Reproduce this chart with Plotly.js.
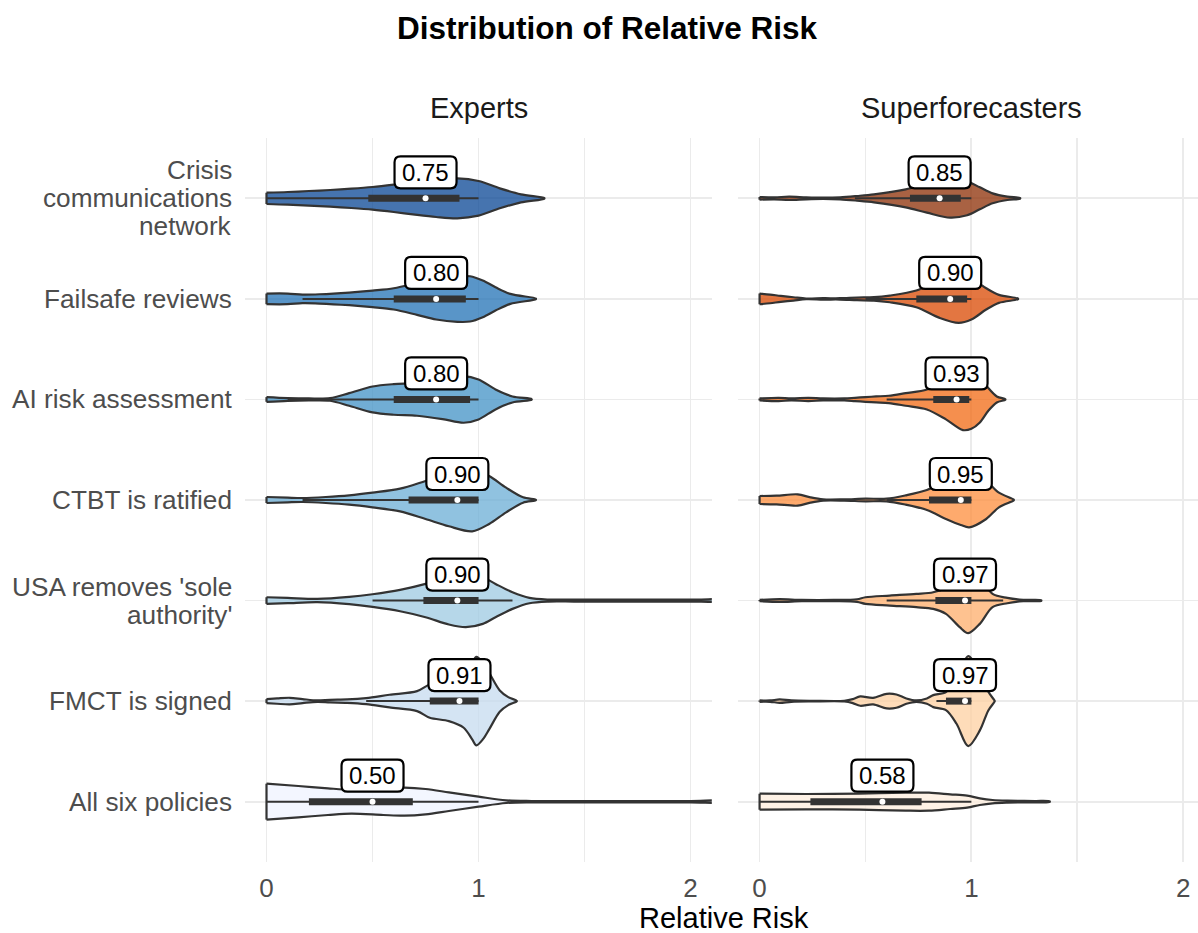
<!DOCTYPE html>
<html><head><meta charset="utf-8">
<script src="https://cdn.plot.ly/plotly-3.0.1.min.js"></script>
<style>html,body{margin:0;padding:0;background:#fff}#chart{width:1198px;height:933px}</style>
</head><body><div id="chart"></div><script>
// ---------------- data ----------------
const categories = ["Crisis\ncommunications\nnetwork", "Failsafe reviews", "AI risk assessment",
  "CTBT is ratified", "USA removes 'sole\nauthority'", "FMCT is signed", "All six policies"];
const groups = ["Experts", "Superforecasters"];

// density outlines (half-width) per category
const expDensityX = [
  [0,0.1,0.2,0.3,0.4,0.5,0.6,0.7,0.8,0.9,1.0,1.1,1.2,1.31],
  [0,0.1,0.17,0.25,0.39,0.5,0.6,0.71,0.8,0.9,0.96,1.02,1.08,1.15,1.27],
  [0,0.1,0.2,0.3,0.39,0.5,0.6,0.71,0.83,0.93,1.0,1.08,1.16,1.25],
  [0,0.1,0.17,0.28,0.39,0.5,0.63,0.75,0.86,0.97,1.05,1.13,1.21,1.27],
  [0,0.1,0.24,0.39,0.5,0.63,0.75,0.86,0.94,1.02,1.08,1.16,1.24,1.33,1.45,1.6,1.75,1.9,2.05,2.2],
  [0,0.05,0.11,0.17,0.24,0.3,0.38,0.47,0.58,0.71,0.77,0.86,0.93,0.97,0.99,1.02,1.05,1.1,1.14,1.18],
  [0,0.15,0.29,0.4,0.55,0.65,0.75,0.86,1.0,1.13,1.25,1.4,1.55,1.7,1.85,2.0,2.2]
];
const expDensityW = [
  [17,19,22,25,29,34,41,49,56,60,52,30,12,1],
  [16,16,13,14,19,25,32,48,62,69,68,55,35,15,1],
  [7,4,3,4,19,39,46,49,59,70,60,30,9,1],
  [9,7,6,9,14,22,34,57,79,94,72,37,8,1],
  [10,8,5,11,19,32,50,72,80,70,50,25,8,3,3,3,3,3,3,3],
  [6,8,10,6,2,4,5,9,19,30,50,60,80,115,133,115,85,32,12,1],
  [54,47,40,36,40,42,38,28,15,4,2,2,2,2,2,2,2]
];
const sfDensityX = [
  [0,0.07,0.14,0.22,0.3,0.38,0.46,0.54,0.69,0.79,0.9,0.98,1.04,1.1,1.17,1.23],
  [0,0.05,0.1,0.16,0.22,0.3,0.38,0.46,0.54,0.615,0.74,0.85,0.94,1.0,1.07,1.13,1.22],
  [0,0.09,0.15,0.23,0.3,0.4,0.45,0.5,0.55,0.61,0.69,0.79,0.88,0.96,1.0,1.04,1.08,1.12,1.16],
  [0,0.08,0.18,0.24,0.3,0.4,0.5,0.6,0.69,0.79,0.88,0.95,0.99,1.07,1.13,1.2],
  [0,0.095,0.2,0.35,0.46,0.5,0.615,0.74,0.82,0.88,0.945,0.985,1.04,1.1,1.17,1.245,1.33],
  [0,0.05,0.095,0.15,0.25,0.4,0.44,0.475,0.536,0.6,0.646,0.693,0.74,0.79,0.82,0.88,0.93,0.985,1.04,1.08,1.11],
  [0,0.22,0.47,0.69,0.8,0.9,0.98,1.04,1.1,1.17,1.3,1.37]
];
const sfDensityW = [
  [4,3,5,3,2,3,7,12,27,43,58,51,33,15,5,1],
  [16,13,9,5,1,2,2,4,5,10,25,57,72,62,32,12,1],
  [3,5,3,5,3,3,5,7,9,11,19,30,60,92,88,69,34,9,1],
  [12,13,17,8,2,2,4,4,14,30,57,75,82,57,22,1],
  [2,4,2,2,4,10,15,20,25,40,80,98,70,20,8,2,1],
  [2,2,5,2,1,1,6,14,10,22,20,8,2,8,18,27,68,135,88,28,1],
  [24,23,24,27,27,22,18,10,5,3,2,1]
];

// box-plot statistics
const expWhiskerLo = [0, 0.17, 0.10, 0.17, 0.50, 0.47, 0];
const expQ1        = [0.48, 0.60, 0.60, 0.67, 0.74, 0.77, 0.20];
const expMedian    = [0.75, 0.80, 0.80, 0.90, 0.90, 0.91, 0.50];
const expQ3        = [0.91, 0.94, 0.96, 1.00, 1.00, 1.00, 0.69];
const expWhiskerHi = [1.0, 1.0, 1.0, 1.0, 1.16, 1.0, 1.0];

const sfWhiskerLo = [0.45, 0.50, 0.60, 0.60, 0.60, 0.835, 0];
const sfQ1        = [0.71, 0.74, 0.82, 0.80, 0.83, 0.88, 0.24];
const sfMedian    = [0.85, 0.90, 0.93, 0.95, 0.97, 0.97, 0.58];
const sfQ3        = [0.95, 0.98, 0.99, 1.00, 1.00, 1.00, 0.765];
const sfWhiskerHi = [1.0, 1.0, 1.0, 1.0, 1.15, 1.0, 1.0];

// ---------------- style ----------------
const expColors = ['#084594','#2171b5','#4292c6','#6baed6','#9ecae1','#c6dbef','#eff3ff'];
const sfColors  = ['#8c2d04','#d94801','#f16913','#fd8d3c','#fdae6b','#fdd0a2','#feedde'];
const FILL_ALPHA = 0.75;
const WIDTH_SCALE = 1 / 302;   // density reading -> category units
const OUTLINE = '#333333';
const OUTLINE_W = 2.2;
const FONT = 'Liberation Sans, Arial, Helvetica, sans-serif';
const LABEL_DY = 26;           // px above the row
const BOX_W = 62, BOX_H = 32, BOX_R = 6;
const LINE_GAP = 28;

function rgba(hex, a) {
  const n = parseInt(hex.slice(1), 16);
  return `rgba(${(n>>16)&255},${(n>>8)&255},${n&255},${a})`;
}

const traces = [];
const shapes = [];
const annotations = [];

function roundRectPath(cx, cy, w, h, r) {
  const l = cx - w/2, rt = cx + w/2, b = cy - h/2, t = cy + h/2;
  return `M ${l+r},${b} L ${rt-r},${b} Q ${rt},${b} ${rt},${b+r} L ${rt},${t-r} Q ${rt},${t} ${rt-r},${t} ` +
         `L ${l+r},${t} Q ${l},${t} ${l},${t-r} L ${l},${b+r} Q ${l},${b} ${l+r},${b} Z`;
}

function addPanel(xa, ya, dX, dW, lo, q1, med, q3, hi, colors) {
  const xref = xa === 'x' ? 'x' : 'x2';
  const yref = ya === 'y' ? 'y' : 'y2';
  for (let i = 0; i < categories.length; i++) {
    const xs = dX[i], ws = dW[i];
    const up = ws.map(w => i - w * WIDTH_SCALE);
    const dn = ws.map(w => i + w * WIDTH_SCALE);
    traces.push({
      type: 'scatter', mode: 'lines', xaxis: xa, yaxis: ya,
      x: xs.concat(xs.slice().reverse()),
      y: up.concat(dn.slice().reverse()),
      fill: 'toself', fillcolor: rgba(colors[i], FILL_ALPHA),
      line: {color: OUTLINE, width: OUTLINE_W, shape: 'spline', smoothing: 0.9},
      hoverinfo: 'skip', showlegend: false
    });
    traces.push({
      type: 'scatter', mode: 'lines', xaxis: xa, yaxis: ya,
      x: [xs[0], xs[0]], y: [up[0], dn[0]],
      line: {color: OUTLINE, width: OUTLINE_W}, hoverinfo: 'skip', showlegend: false
    });
    traces.push({
      type: 'scatter', mode: 'lines', xaxis: xa, yaxis: ya,
      x: [lo[i], hi[i]], y: [i, i],
      line: {color: OUTLINE, width: 2}, hoverinfo: 'skip', showlegend: false
    });
    traces.push({
      type: 'scatter', mode: 'lines', xaxis: xa, yaxis: ya,
      x: [q1[i], q3[i]], y: [i, i],
      line: {color: OUTLINE, width: 7}, hoverinfo: 'skip', showlegend: false
    });
    shapes.push({
      type: 'path', xref: xref, yref: yref,
      xsizemode: 'pixel', ysizemode: 'pixel', xanchor: med[i], yanchor: i,
      path: roundRectPath(0, LABEL_DY, BOX_W, BOX_H, BOX_R),
      fillcolor: '#ffffff', line: {color: '#000000', width: 2.2}, layer: 'above'
    });
    annotations.push({
      xref: xref, yref: yref, x: med[i], y: i, yshift: LABEL_DY,
      text: med[i].toFixed(2), showarrow: false,
      xanchor: 'center', yanchor: 'middle',
      font: {family: FONT, size: 24, color: '#000000'}
    });
  }
  traces.push({
    type: 'scatter', mode: 'markers', xaxis: xa, yaxis: ya,
    x: med, y: med.map((_, i) => i),
    marker: {color: '#ffffff', size: 6}, hoverinfo: 'skip', showlegend: false
  });
}

addPanel('x', 'y', expDensityX, expDensityW, expWhiskerLo, expQ1, expMedian, expQ3, expWhiskerHi, expColors);
addPanel('x2', 'y2', sfDensityX, sfDensityW, sfWhiskerLo, sfQ1, sfMedian, sfQ3, sfWhiskerHi, sfColors);

// category labels (left)
categories.forEach((c, i) => {
  const lines = c.split('\n');
  lines.forEach((ln, k) => {
    annotations.push({
      xref: 'paper', yref: 'y', x: 234/1198, y: i,
      yshift: ((lines.length - 1) / 2 - k) * LINE_GAP,
      text: ln, showarrow: false, xanchor: 'right', yanchor: 'middle',
      font: {family: FONT, size: 26.2, color: '#4d4d4d'}
    });
  });
});

// facet strips
const H = 933, T = 138, B = 71, PH = H - T - B;
annotations.push({xref: 'paper', yref: 'paper', x: 478.5/1198, y: 1 + (T - 108)/PH,
  text: groups[0], showarrow: false, xanchor: 'center', yanchor: 'middle',
  font: {family: FONT, size: 29, color: '#1a1a1a'}});
annotations.push({xref: 'paper', yref: 'paper', x: 971.5/1198, y: 1 + (T - 108)/PH,
  text: groups[1], showarrow: false, xanchor: 'center', yanchor: 'middle',
  font: {family: FONT, size: 29, color: '#1a1a1a'}});
// x axis title
annotations.push({xref: 'paper', yref: 'paper', x: 724/1198, y: -(918 - (H - B))/PH,
  text: 'Relative Risk', showarrow: false, xanchor: 'center', yanchor: 'middle',
  font: {family: FONT, size: 29, color: '#000000'}});

const xCommon = {
  tickmode: 'linear', tick0: 0, dtick: 1, showgrid: true, gridcolor: '#ebebeb', gridwidth: 1.8,
  minor: {dtick: 0.5, tick0: 0, showgrid: true, gridcolor: '#ebebeb', gridwidth: 1.8},
  zeroline: false, showline: false, ticks: '', ticklabelstandoff: 8,
  tickfont: {family: FONT, size: 26, color: '#4d4d4d'}, fixedrange: true
};
const yCommon = {
  range: [6.6, -0.6], tickmode: 'array', tickvals: [0,1,2,3,4,5,6],
  showticklabels: false, showgrid: true, gridcolor: '#ebebeb', gridwidth: 1.8,
  zeroline: false, showline: false, ticks: '', fixedrange: true
};

const layout = {
  width: 1198, height: 933,
  margin: {l: 0, r: 0, t: T, b: B},
  paper_bgcolor: '#ffffff', plot_bgcolor: '#ffffff',
  showlegend: false,
  title: {text: '<b>Distribution of Relative Risk</b>', x: 607/1198, xanchor: 'center',
    y: 1 - 28/933, yanchor: 'middle', yref: 'container',
    font: {family: FONT, size: 31.5, color: '#000000'}},
  xaxis: Object.assign({}, xCommon, {domain: [245.3/1198, 711.8/1198], range: [-0.1, 2.1], anchor: 'y'}),
  xaxis2: Object.assign({}, xCommon, {domain: [738.4/1198, 1], range: [-0.1, 2.07], anchor: 'y2'}),
  yaxis: Object.assign({}, yCommon, {anchor: 'x'}),
  yaxis2: Object.assign({}, yCommon, {anchor: 'x2'}),
  shapes: shapes,
  annotations: annotations
};

Plotly.newPlot('chart', traces, layout, {displayModeBar: false, staticPlot: true});
</script></body></html>
